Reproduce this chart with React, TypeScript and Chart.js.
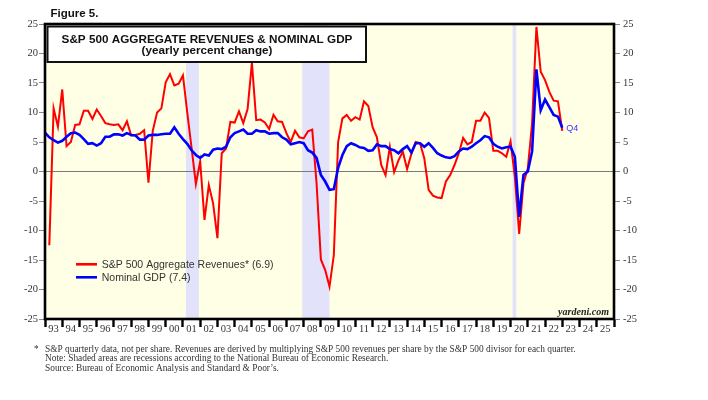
import React, { useEffect, useRef } from "react";
import { Chart, registerables } from "chart.js";

Chart.register(...registerables);

// ---------- data ----------
const revenueStartQuarter = "1993Q1";
const gdpStartQuarter = "1992Q4";

const revenueGrowth = [
  -12.5, 10.7, 7.6, 13.9, 4.3, 5.0, 7.9, 8.0, 10.3, 10.3, 8.9, 10.5, 9.4, 8.2, 8.0, 7.9,
  8.0, 7.0, 8.5, 6.1, 6.2, 6.4, 7.0, -1.9, 6.9, 10.0, 10.7, 15.1, 16.5, 14.6, 14.9, 16.3,
  10.0, 4.0, -2.1, 1.7, -8.2, -2.3, -5.4, -11.3, 3.1, 3.9, 8.4, 8.3, 10.2, 8.2, 10.6, 18.4,
  8.7, 8.8, 8.3, 7.2, 9.6, 8.5, 8.4, 6.5, 5.0, 6.9, 5.8, 5.6, 6.8, 7.1, -2.0, -14.9,
  -16.7, -19.5, -14.2, 5.0, 9.0, 9.6, 8.6, 9.2, 8.8, 11.9, 11.1, 7.5, 5.8, 1.1, -0.6, 4.2,
  -0.1, 1.9, 3.4, 0.4, 3.0, 5.0, 4.8, 2.2, -3.1, -4.1, -4.4, -4.5, -1.7, -0.6, 1.1, 3.1,
  5.7, 4.6, 5.0, 8.6, 8.6, 10.0, 9.1, 3.5, 3.5, 3.1, 2.5, 5.1, -0.9, -10.6, -2.0, 0.5,
  8.2, 24.5, 16.9, 15.5, 13.5, 12.0, 11.9, 6.9,
];

const gdpGrowth = [
  6.6, 5.8, 5.3, 4.9, 5.2, 5.9, 6.5, 6.6, 6.2, 5.5, 4.7, 4.8, 4.4, 4.8, 5.9, 5.9,
  6.3, 6.3, 6.1, 6.5, 6.2, 6.1, 5.4, 5.4, 6.1, 6.2, 6.2, 6.3, 6.4, 6.4, 7.5, 6.4,
  5.5, 4.7, 3.6, 2.8, 2.3, 2.9, 2.7, 3.7, 3.9, 3.8, 4.2, 5.8, 6.5, 6.8, 7.1, 6.4,
  6.4, 7.0, 6.8, 6.8, 6.4, 6.5, 6.5, 5.8, 5.4, 4.6, 4.8, 5.0, 4.8, 3.6, 3.2, 2.3,
  -0.6, -1.7, -3.1, -3.0, 0.6, 2.8, 4.3, 4.8, 4.5, 4.1, 4.0, 3.5, 3.6, 4.6, 4.3, 4.3,
  3.8, 3.6, 3.1, 3.8, 4.3, 3.2, 4.8, 4.8, 4.2, 4.8, 4.0, 3.1, 2.7, 2.4, 2.3, 2.6,
  3.4, 3.9, 3.8, 4.2, 4.8, 5.3, 6.0, 5.8, 4.7, 4.2, 3.9, 4.1, 4.2, 2.5, -7.7, -0.6,
  0.0, 3.4, 17.3, 10.4, 12.2, 10.9, 9.6, 9.3, 7.4,
];

// recession spans (decimal years)
const recessionStarts = [2001.17, 2007.92, 2020.12];
const recessionEnds = [2001.92, 2009.5, 2020.33];

const firstYear = 1993;
const lastYear = 2026;
const yMin = -25;
const yMax = 25;
const yStep = 5;

const revenueLabel = "S&P 500 Aggregate Revenues* (6.9)";
const gdpLabel = "Nominal GDP (7.4)";
const lastQuarterLabel = "Q4";
const titleLine1 = "S&P 500 AGGREGATE REVENUES & NOMINAL GDP";
const titleLine2 = "(yearly percent change)";
const figureLabel = "Figure 5.";
const footnotes = [
  "S&P quarterly data, not per share. Revenues are derived by multiplying S&P 500 revenues per share by the S&P 500 divisor for each quarter.",
  "Note: Shaded areas are recessions according to the National Bureau of Economic Research.",
  "Source: Bureau of Economic Analysis and Standard & Poor\u2019s.",
];

// ---------- helpers ----------
const SANS = '"Liberation Sans", Arial, sans-serif';
const SERIF = '"Liberation Serif", "Times New Roman", serif';

function quarterToYear(start: string, offset: number): number {
  const [y, q] = start.split("Q").map(Number);
  return y + (q + offset) / 4;
}

function fitText(
  ctx: CanvasRenderingContext2D,
  text: string,
  width: number,
  style: string,
  family: string
): number {
  ctx.font = `${style} 20px ${family}`;
  const w = ctx.measureText(text).width;
  const size = (20 * width) / w;
  ctx.font = `${style} ${size}px ${family}`;
  return size;
}

const decorPlugin = {
  id: "decor",
  beforeDraw(chart: any) {
    const { ctx, chartArea: a, scales } = chart;
    ctx.save();
    ctx.fillStyle = "#ffffff";
    ctx.fillRect(0, 0, chart.width, chart.height);
    ctx.fillStyle = "#FFFFE6";
    ctx.fillRect(a.left, a.top, a.right - a.left, a.bottom - a.top);
    ctx.fillStyle = "#E2E2FA";
    recessionStarts.forEach((s, i) => {
      const x0 = scales.x.getPixelForValue(s);
      const x1 = scales.x.getPixelForValue(recessionEnds[i]);
      ctx.fillRect(x0, a.top, x1 - x0, a.bottom - a.top);
    });
    ctx.restore();
  },
  afterDraw(chart: any) {
    const { ctx, chartArea: a, scales } = chart;
    ctx.save();
    // frame
    ctx.strokeStyle = "#000";
    ctx.lineWidth = 2.6;
    ctx.strokeRect(a.left, a.top, a.right - a.left, a.bottom - a.top);

    // figure label
    ctx.fillStyle = "#111";
    ctx.textBaseline = "alphabetic";
    ctx.textAlign = "left";
    fitText(ctx, figureLabel, 48, "bold", SANS);
    ctx.fillText(figureLabel, 50.5, 16.5);

    // title box
    const bx0 = 47.5, bx1 = 366, by0 = 26.5, by1 = 62;
    ctx.fillStyle = "#fff";
    ctx.fillRect(bx0, by0, bx1 - bx0, by1 - by0);
    ctx.lineWidth = 2;
    ctx.strokeStyle = "#111";
    ctx.strokeRect(bx0, by0, bx1 - bx0, by1 - by0);
    ctx.fillStyle = "#111";
    ctx.textAlign = "center";
    fitText(ctx, titleLine1, 291, "bold", SANS);
    ctx.fillText(titleLine1, 207, 43.2);
    fitText(ctx, titleLine2, 131, "bold", SANS);
    ctx.fillText(titleLine2, 207, 54.2);

    // legend
    ctx.textAlign = "left";
    const items = [
      { label: revenueLabel, color: "#FF0000", y: 264.3 },
      { label: gdpLabel, color: "#0000FF", y: 277.3 },
    ];
    ctx.font = `11.6px ${SANS}`;
    const lw = ctx.measureText(revenueLabel).width;
    const size = (11.6 * 172) / lw;
    items.forEach((it) => {
      ctx.strokeStyle = it.color;
      ctx.lineWidth = 2.6;
      ctx.beginPath();
      ctx.moveTo(76, it.y);
      ctx.lineTo(97, it.y);
      ctx.stroke();
      ctx.fillStyle = "#333";
      ctx.font = `${size}px ${SANS}`;
      ctx.fillText(it.label, 101.7, it.y + 4);
    });

    // last-quarter marker
    const lastIdx = gdpGrowth.length - 1;
    const lx = scales.x.getPixelForValue(quarterToYear(gdpStartQuarter, lastIdx));
    const ly = scales.y.getPixelForValue(gdpGrowth[lastIdx]);
    ctx.fillStyle = "#3333FF";
    ctx.font = `9px ${SANS}`;
    ctx.textBaseline = "middle";
    ctx.fillText(lastQuarterLabel, lx + 4, ly + 0.5);

    // watermark
    ctx.textBaseline = "alphabetic";
    ctx.textAlign = "right";
    ctx.fillStyle = "#222";
    fitText(ctx, "yardeni.com", 51, "italic bold", SERIF);
    ctx.fillText("yardeni.com", a.right - 5, a.bottom - 4);

    // footnotes
    ctx.textAlign = "left";
    ctx.fillStyle = "#333";
    const fsize = fitText(ctx, footnotes[0], 531, "", SERIF);
    ctx.font = `${fsize}px ${SERIF}`;
    ctx.fillText("*", 34, 351.5);
    footnotes.forEach((t, i) => {
      ctx.fillText(t, 45, 351.5 + i * 9.6);
    });
    ctx.restore();
  },
};

export default function App() {
  const ref = useRef<HTMLCanvasElement | null>(null);

  useEffect(() => {
    if (!ref.current) return;
    const revenuePoints = revenueGrowth.map((v, i) => ({
      x: quarterToYear(revenueStartQuarter, i),
      y: v,
    }));
    const gdpPoints = gdpGrowth.map((v, i) => ({
      x: quarterToYear(gdpStartQuarter, i),
      y: v,
    }));

    const yTickCommon = {
      min: yMin,
      max: yMax,
      border: { display: false },
    };

    const chart = new Chart(ref.current, {
      type: "line",
      data: {
        datasets: [
          {
            label: gdpLabel,
            data: gdpPoints,
            borderColor: "#0000FF",
            borderWidth: 2.6,
            pointRadius: 0,
            tension: 0,
            order: 0,
          },
          {
            label: revenueLabel,
            data: revenuePoints,
            borderColor: "#FF0000",
            borderWidth: 2,
            pointRadius: 0,
            tension: 0,
            order: 1,
          },
        ],
      },
      options: {
        animation: false,
        responsive: false,
        events: [],
        layout: { padding: { top: 24, left: 0, right: 0, bottom: 0 } },
        plugins: { legend: { display: false }, tooltip: { enabled: false } },
        scales: {
          x: {
            type: "linear",
            position: "bottom",
            min: firstYear,
            max: lastYear,
            border: { display: false },
            grid: {
              drawOnChartArea: false,
              drawTicks: true,
              tickLength: 8,
              tickWidth: 2.4,
              tickColor: "#000",
            },
            ticks: {
              stepSize: 1,
              autoSkip: false,
              maxRotation: 0,
              labelOffset: 8.6,
              padding: -4,
              color: "#333",
              font: { family: SERIF, size: 10.5 },
              callback: (v: any) =>
                Number(v) >= lastYear ? "" : String(Number(v) % 100).padStart(2, "0"),
            },
            afterFit: (s: any) => {
              s.height = 81;
            },
          },
          y: {
            ...yTickCommon,
            position: "left",
            grid: {
              drawOnChartArea: true,
              color: (c: any) => (c.tick && c.tick.value === 0 ? "#7a7a7a" : "rgba(0,0,0,0)"),
              lineWidth: 1,
              tickLength: 6,
              tickColor: "#888",
            },
            ticks: {
              stepSize: yStep,
              padding: 1,
              color: "#333",
              font: { family: SERIF, size: 10.5 },
            },
            afterFit: (s: any) => {
              s.width = 45;
            },
          },
          y2: {
            ...yTickCommon,
            position: "right",
            grid: {
              drawOnChartArea: false,
              tickLength: 6,
              tickColor: "#888",
            },
            ticks: {
              stepSize: yStep,
              padding: 3,
              color: "#333",
              font: { family: SERIF, size: 10.5 },
            },
            afterFit: (s: any) => {
              s.width = 94;
            },
          },
        },
      },
      plugins: [decorPlugin],
    } as any);

    return () => chart.destroy();
  }, []);

  return (
    <div style={{ position: "absolute", left: 0, top: 0, width: 708, height: 400, background: "#fff" }}>
      <canvas ref={ref} width={708} height={400} style={{ display: "block" }} />
    </div>
  );
}
